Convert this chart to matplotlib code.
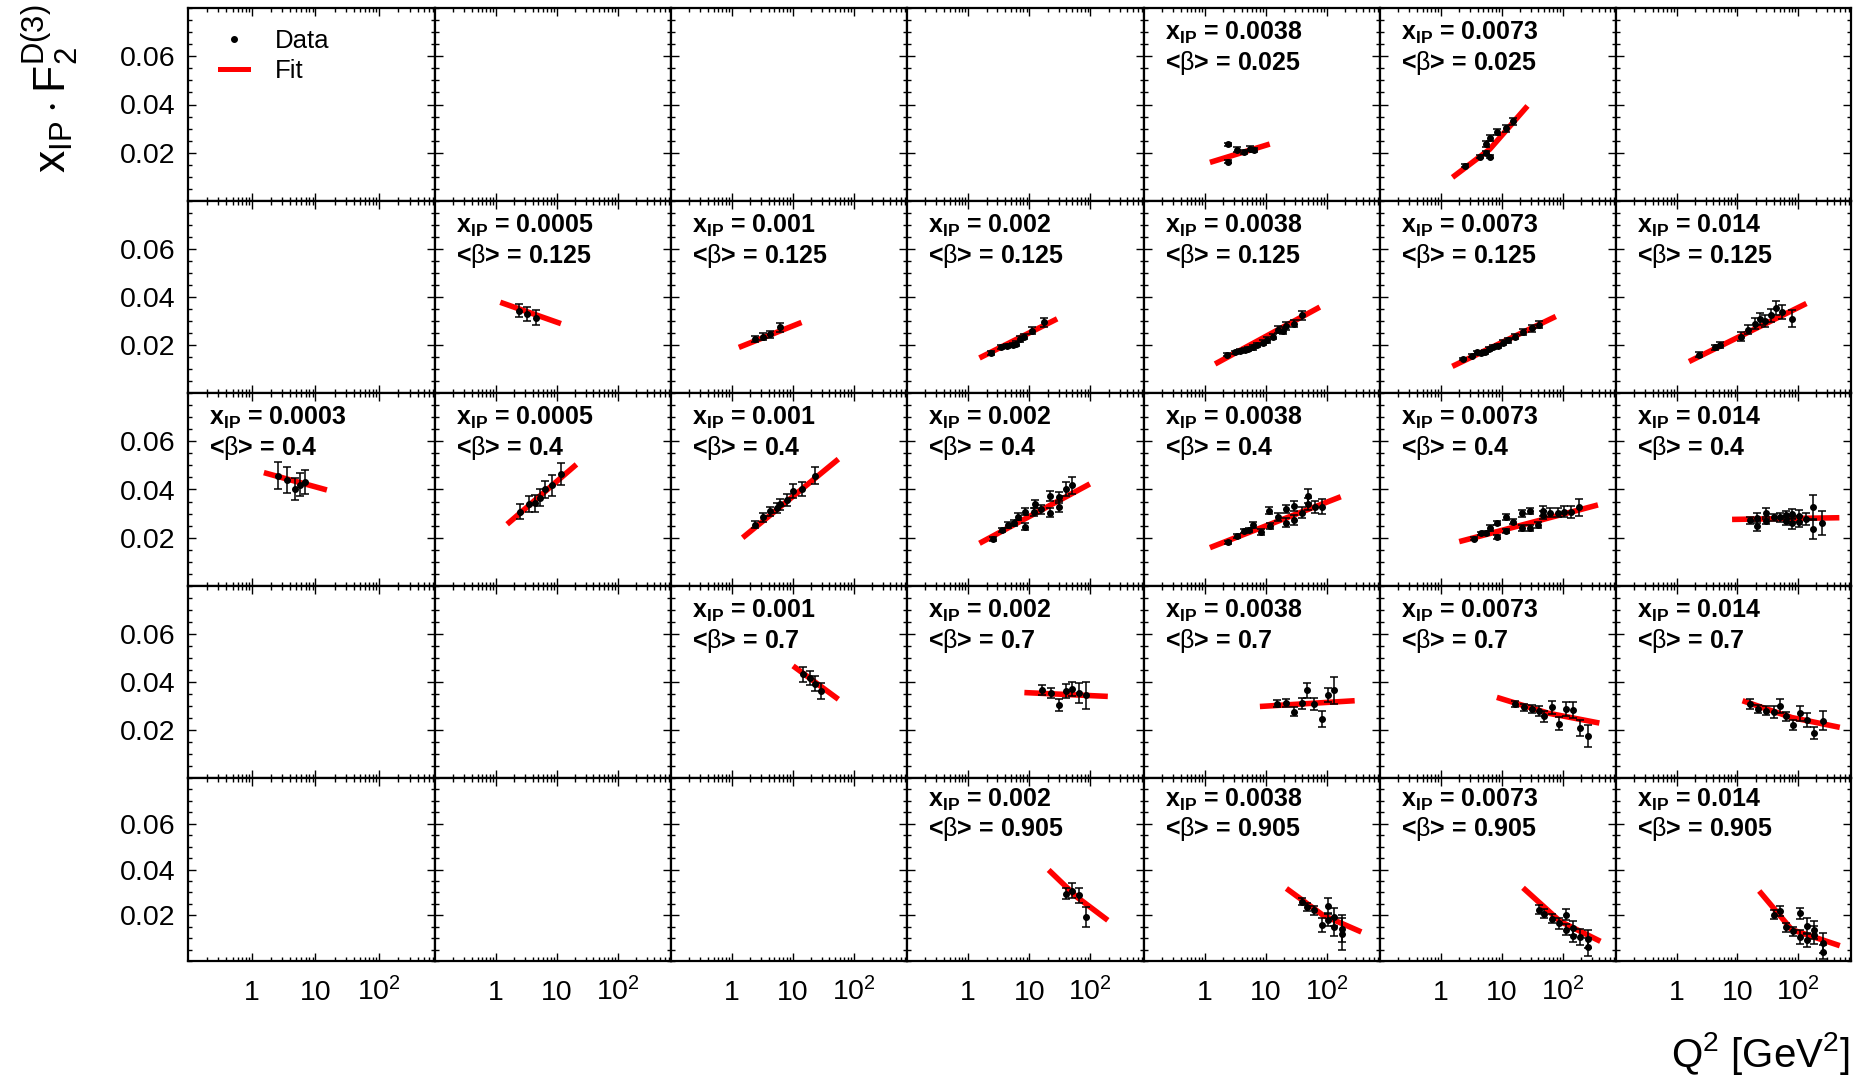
import matplotlib
matplotlib.use("Agg")
import matplotlib.pyplot as plt
from matplotlib.lines import Line2D
from matplotlib.ticker import FixedLocator, MultipleLocator, LogLocator, NullFormatter

plt.rcParams["font.family"] = ["Liberation Sans", "DejaVu Sans"]
plt.rcParams["mathtext.fontset"] = "custom"
plt.rcParams["mathtext.rm"] = "Liberation Sans"
plt.rcParams["mathtext.it"] = "Liberation Sans:italic"
plt.rcParams["mathtext.bf"] = "Liberation Sans:bold"

# columns = x_IP bins, rows = <beta> bins
xip_labels = ["0.0003", "0.0005", "0.001", "0.002", "0.0038", "0.0073", "0.014"]
beta_labels = ["0.025", "0.125", "0.4", "0.7", "0.905"]
q2_ticks = [1, 10, 100]
q2_ticklabels = ["1", "10", "10$^{2}$"]
y_ticks = [0.02, 0.04, 0.06]
y_ticklabels = ["0.02", "0.04", "0.06"]

# (Q2, xIP*F2D3, error) per panel, fit curve as (Q2, value)
b0025_x0038 = [(2.41, 0.0235, 0.0006), (2.41, 0.0163, 0.0006), (3.39, 0.0213, 0.0010),
               (4.36, 0.0203, 0.0007), (5.47, 0.0217, 0.0009), (6.36, 0.0211, 0.0009)]
fit_b0025_x0038 = [(1.21, 0.0160), (11.6, 0.0236)]
b0025_x0073 = [(2.47, 0.0146, 0.0006), (4.36, 0.0184, 0.0006), (5.47, 0.0236, 0.0014),
               (5.47, 0.0200, 0.0008), (6.36, 0.0260, 0.0012), (6.36, 0.0184, 0.0006),
               (8.49, 0.0287, 0.0012), (11.8, 0.0301, 0.0014), (15.5, 0.0331, 0.0015)]
fit_b0025_x0073 = [(1.55, 0.0098), (6.36, 0.0215), (26.4, 0.0394)]

b0125_x0005 = [(2.41, 0.0343, 0.0028), (3.2, 0.0330, 0.0030), (4.53, 0.0314, 0.0030)]
fit_b0125_x0005 = [(1.18, 0.0378), (11.7, 0.0289)]
b0125_x001 = [(2.4, 0.0225, 0.0012), (3.3, 0.0235, 0.0014), (4.3, 0.0244, 0.0015),
              (6.2, 0.0274, 0.0018)]
fit_b0125_x001 = [(1.3, 0.0190), (13.9, 0.0294)]
b0125_x002 = [(2.39, 0.0165, 0.0008), (3.43, 0.0190, 0.0008), (4.29, 0.0195, 0.0008),
              (5.37, 0.0200, 0.0010), (6.15, 0.0205, 0.0010), (7.04, 0.0225, 0.0012),
              (8.06, 0.0235, 0.0012), (11.0, 0.0259, 0.0015), (17.3, 0.0294, 0.0018)]
fit_b0125_x002 = [(1.53, 0.0146), (28.5, 0.0309)]
b0125_x0038 = [(2.3, 0.0160, 0.0006), (3.15, 0.0170, 0.0007), (3.77, 0.0175, 0.0008),
               (4.51, 0.0180, 0.0008), (5.16, 0.0182, 0.0008), (6.18, 0.0190, 0.0009),
               (7.07, 0.0200, 0.0010), (8.86, 0.0210, 0.0010), (10.6, 0.0220, 0.0012),
               (13.3, 0.0235, 0.0012), (15.9, 0.0264, 0.0014), (19.0, 0.0259, 0.0014),
               (21.8, 0.0279, 0.0015), (28.5, 0.0289, 0.0016), (39.0, 0.0323, 0.0018)]
fit_b0125_x0038 = [(1.47, 0.0121), (77, 0.0358)]
b0125_x0073 = [(2.29, 0.0141, 0.0005), (3.28, 0.0156, 0.0006), (3.92, 0.0170, 0.0007),
               (4.49, 0.0165, 0.0007), (5.37, 0.0170, 0.0008), (6.15, 0.0185, 0.0008),
               (7.04, 0.0190, 0.0008), (8.82, 0.0195, 0.0009), (10.6, 0.0210, 0.0010),
               (12.6, 0.0220, 0.0010), (16.5, 0.0235, 0.0012), (22.7, 0.0254, 0.0013),
               (31.0, 0.0269, 0.0014), (40.7, 0.0284, 0.0015)]
fit_b0125_x0073 = [(1.54, 0.0111), (77, 0.0319)]
b0125_x014 = [(2.38, 0.0160, 0.0012), (4.27, 0.0190, 0.0012), (5.12, 0.0200, 0.0014),
              (11.5, 0.0235, 0.0018), (15.1, 0.0264, 0.0020), (19.7, 0.0289, 0.0022),
              (23.6, 0.0309, 0.0025), (28.3, 0.0299, 0.0025), (35.4, 0.0323, 0.0028),
              (44.3, 0.0353, 0.0030), (55.5, 0.0338, 0.0030), (79.5, 0.0309, 0.0035)]
fit_b0125_x014 = [(1.6, 0.0131), (138, 0.0373)]

b04_x0003 = [(2.57, 0.0457, 0.0055), (3.61, 0.0439, 0.0055), (4.72, 0.0402, 0.0047),
             (5.73, 0.0420, 0.0047), (6.79, 0.0432, 0.0050)]
fit_b04_x0003 = [(1.55, 0.0470), (15.1, 0.0398)]
b04_x0005 = [(2.47, 0.0308, 0.0030), (3.47, 0.0338, 0.0033), (4.41, 0.0343, 0.0035),
             (5.33, 0.0366, 0.0035), (6.52, 0.0401, 0.0035), (8.49, 0.0417, 0.0045),
             (11.6, 0.0464, 0.0045)]
fit_b04_x0005 = [(1.53, 0.0256), (21.0, 0.0504)]
b04_x001 = [(2.4, 0.0254, 0.0015), (3.3, 0.0284, 0.0018), (4.3, 0.0309, 0.0020),
            (5.4, 0.0323, 0.0022), (6.2, 0.0338, 0.0022), (8.1, 0.0358, 0.0025),
            (10.1, 0.0393, 0.0028), (13.9, 0.0402, 0.0030), (22.8, 0.0457, 0.0035)]
fit_b04_x001 = [(1.5, 0.0200), (56, 0.0526)]
b04_x002 = [(2.54, 0.0195, 0.0008), (3.56, 0.0232, 0.0010), (4.53, 0.0253, 0.0012),
            (5.53, 0.0262, 0.0012), (6.44, 0.0287, 0.0014), (8.49, 0.0308, 0.0015),
            (8.49, 0.0246, 0.0015), (11.9, 0.0308, 0.0016), (12.2, 0.0340, 0.0018),
            (15.7, 0.0318, 0.0018), (22.1, 0.0373, 0.0022), (22.1, 0.0304, 0.0020),
            (30.3, 0.0367, 0.0024), (30.3, 0.0329, 0.0022), (39.9, 0.0402, 0.0030),
            (49.4, 0.0417, 0.0035)]
fit_b04_x002 = [(1.53, 0.0177), (97.5, 0.0423)]
b04_x0038 = [(2.41, 0.0181, 0.0007), (3.39, 0.0207, 0.0008), (4.36, 0.0228, 0.0010),
             (5.27, 0.0232, 0.0010), (6.20, 0.0253, 0.0012), (8.49, 0.0225, 0.0012),
             (11.3, 0.0312, 0.0015), (11.6, 0.0249, 0.0014), (15.9, 0.0285, 0.0016),
             (21.5, 0.0319, 0.0018), (21.5, 0.0262, 0.0018), (29.1, 0.0331, 0.0020),
             (29.1, 0.0273, 0.0020), (39.4, 0.0304, 0.0022), (49.4, 0.0373, 0.0028),
             (49.4, 0.0340, 0.0025), (63.6, 0.0329, 0.0025), (82.8, 0.0329, 0.0030)]
fit_b04_x0038 = [(1.21, 0.0159), (170, 0.0370)]
b04_x0073 = [(3.47, 0.0196, 0.0006), (4.47, 0.0218, 0.0007), (5.47, 0.0221, 0.0008),
             (6.36, 0.0239, 0.0012), (8.38, 0.0262, 0.0009), (8.38, 0.0204, 0.0008),
             (11.6, 0.0287, 0.0012), (11.6, 0.0228, 0.0010), (15.5, 0.0267, 0.0012),
             (21.8, 0.0301, 0.0013), (21.8, 0.0239, 0.0012), (29.5, 0.0311, 0.0013),
             (29.5, 0.0239, 0.0012), (39.4, 0.0253, 0.0013), (47.6, 0.0312, 0.0020),
             (47.6, 0.0294, 0.0018), (62.8, 0.0304, 0.0020), (83.8, 0.0304, 0.0020),
             (106, 0.0308, 0.0022), (139, 0.0308, 0.0025), (183, 0.0326, 0.0035)]
fit_b04_x0073 = [(2.0, 0.0184), (379, 0.0336)]
b04_x014 = [(16.1, 0.0273, 0.0015), (21.5, 0.0283, 0.0020), (21.5, 0.0249, 0.0020),
            (29.5, 0.0301, 0.0022), (29.5, 0.0271, 0.0015), (40.4, 0.0285, 0.0015),
            (50, 0.0285, 0.0018), (62.8, 0.0294, 0.0018), (62.8, 0.0271, 0.0018),
            (80.7, 0.0298, 0.0022), (80.7, 0.0260, 0.0022), (106, 0.0290, 0.0025),
            (106, 0.0267, 0.0022), (137, 0.0276, 0.0025), (176, 0.0329, 0.0050),
            (176, 0.0235, 0.0040), (250, 0.0260, 0.0050)]
fit_b04_x014 = [(8.2, 0.0276), (482, 0.0283)]

b07_x001 = [(14.5, 0.0432, 0.0030), (19.0, 0.0417, 0.0030), (22.8, 0.0393, 0.0032),
            (28.5, 0.0363, 0.0032)]
fit_b07_x001 = [(10.1, 0.0467), (56, 0.0328)]
b07_x002 = [(15.9, 0.0368, 0.0021), (22.3, 0.0354, 0.0022), (30.3, 0.0305, 0.0024),
            (39.9, 0.0362, 0.0030), (49.4, 0.0370, 0.0028), (65, 0.0354, 0.0040),
            (86, 0.0345, 0.0057)]
fit_b07_x002 = [(8.3, 0.0356), (192, 0.0340)]
b07_x0038 = [(15.5, 0.0309, 0.0015), (21.3, 0.0312, 0.0018), (29.1, 0.0277, 0.0020),
             (39.4, 0.0312, 0.0023), (48, 0.0365, 0.0030), (62, 0.0309, 0.0025),
             (83, 0.0247, 0.0033), (106, 0.0345, 0.0030), (134, 0.0365, 0.0055)]
fit_b07_x0038 = [(8.0, 0.0298), (288, 0.0322)]
b07_x0073 = [(16.2, 0.0308, 0.0014), (22.9, 0.0294, 0.0016), (31, 0.0287, 0.0018),
             (41, 0.0280, 0.0020), (50, 0.0257, 0.0022), (66, 0.0294, 0.0028),
             (88, 0.0227, 0.0028), (113, 0.0287, 0.0030), (147, 0.0283, 0.0032),
             (194, 0.0209, 0.0032), (263, 0.0176, 0.0045)]
fit_b07_x0073 = [(8.3, 0.0336), (58, 0.0270), (400, 0.0229)]
b07_x014 = [(16.3, 0.0308, 0.0020), (21.8, 0.0287, 0.0018), (29.5, 0.0280, 0.0018),
            (40.4, 0.0273, 0.0025), (50, 0.0301, 0.0030), (64, 0.0257, 0.0020),
            (84, 0.0222, 0.0020), (108, 0.0269, 0.0030), (139, 0.0241, 0.0030),
            (183, 0.0186, 0.0025), (257, 0.0239, 0.0040)]
fit_b07_x014 = [(12.2, 0.0322), (79, 0.0252), (490, 0.0211)]

b0905_x002 = [(39.9, 0.0295, 0.0023), (49.4, 0.0307, 0.0033), (65, 0.0287, 0.0034),
              (86, 0.0193, 0.0044)]
fit_b0905_x002 = [(20.7, 0.0398), (59, 0.0281), (192, 0.0178)]
b0905_x0038 = [(39.4, 0.0259, 0.0015), (48, 0.0237, 0.0018), (62, 0.0222, 0.0020),
               (83, 0.0156, 0.0030), (106, 0.0240, 0.0035), (106, 0.0181, 0.0030),
               (134, 0.0193, 0.0040), (134, 0.0149, 0.0040), (176, 0.0142, 0.0060),
               (176, 0.0117, 0.0070)]
fit_b0905_x0038 = [(21.8, 0.0317), (87, 0.0200), (370, 0.0127)]
b0905_x0073 = [(41, 0.0225, 0.0018), (50, 0.0206, 0.0020), (67, 0.0184, 0.0020),
               (88, 0.0164, 0.0025), (114, 0.0203, 0.0025), (114, 0.0137, 0.0025),
               (147, 0.0145, 0.0030), (147, 0.0111, 0.0030), (194, 0.0104, 0.0035),
               (263, 0.0096, 0.0040), (263, 0.0060, 0.0040)]
fit_b0905_x0073 = [(22.3, 0.0320), (90, 0.0174), (416, 0.0086)]
b0905_x014 = [(40.4, 0.0203, 0.0020), (50, 0.0218, 0.0022), (64, 0.0148, 0.0020),
              (84, 0.0130, 0.0020), (108, 0.0208, 0.0025), (108, 0.0105, 0.0030),
              (139, 0.0152, 0.0035), (139, 0.0091, 0.0030), (183, 0.0135, 0.0040),
              (183, 0.0113, 0.0040), (257, 0.0079, 0.0045), (257, 0.0038, 0.0030)]
fit_b0905_x014 = [(23, 0.0306), (79, 0.0137), (490, 0.0067)]

# (row, col, data, fit)
panels = [
    (0, 4, b0025_x0038, fit_b0025_x0038), (0, 5, b0025_x0073, fit_b0025_x0073),
    (1, 1, b0125_x0005, fit_b0125_x0005), (1, 2, b0125_x001, fit_b0125_x001),
    (1, 3, b0125_x002, fit_b0125_x002), (1, 4, b0125_x0038, fit_b0125_x0038),
    (1, 5, b0125_x0073, fit_b0125_x0073), (1, 6, b0125_x014, fit_b0125_x014),
    (2, 0, b04_x0003, fit_b04_x0003), (2, 1, b04_x0005, fit_b04_x0005),
    (2, 2, b04_x001, fit_b04_x001), (2, 3, b04_x002, fit_b04_x002),
    (2, 4, b04_x0038, fit_b04_x0038), (2, 5, b04_x0073, fit_b04_x0073),
    (2, 6, b04_x014, fit_b04_x014),
    (3, 2, b07_x001, fit_b07_x001), (3, 3, b07_x002, fit_b07_x002),
    (3, 4, b07_x0038, fit_b07_x0038), (3, 5, b07_x0073, fit_b07_x0073),
    (3, 6, b07_x014, fit_b07_x014),
    (4, 3, b0905_x002, fit_b0905_x002), (4, 4, b0905_x0038, fit_b0905_x0038),
    (4, 5, b0905_x0073, fit_b0905_x0073), (4, 6, b0905_x014, fit_b0905_x014),
]

W, H = 1868, 1078
fig = plt.figure(figsize=(W / 100, H / 100), dpi=100)

# pad edges in pixels
col_edges = [188, 435, 671, 907, 1144, 1380, 1616, 1851]
row_edges = [8, 201, 393, 586, 778, 961]

axes = {}
for r in range(5):
    for c in range(7):
        x0, x1 = col_edges[c], col_edges[c + 1]
        y0, y1 = row_edges[r], row_edges[r + 1]
        ax = fig.add_axes([x0 / W, 1 - y1 / H, (x1 - x0) / W, (y1 - y0) / H])
        ax.set_xscale("log")
        ax.set_xlim(0.1, 750)
        ax.set_ylim(0, 0.08)
        for s in ax.spines.values():
            s.set_linewidth(1.6)
        ax.xaxis.set_major_locator(FixedLocator(q2_ticks))
        ax.xaxis.set_minor_locator(LogLocator(base=10, subs=range(2, 10)))
        ax.xaxis.set_minor_formatter(NullFormatter())
        ax.yaxis.set_major_locator(FixedLocator(y_ticks))
        ax.yaxis.set_minor_locator(MultipleLocator(0.005))
        ax.tick_params(which="both", direction="in", top=True, right=True, width=1)
        ax.tick_params(which="major", length=6)
        ax.tick_params(which="minor", length=3)
        ax.set_xticklabels([])
        if c == 0:
            ax.set_yticklabels(y_ticklabels)
            ax.tick_params(axis="y", labelsize=20.5, pad=9)
        else:
            ax.set_yticklabels([])
        if r == 4:
            for q, lab in zip(q2_ticks, q2_ticklabels):
                ax.text(q, -0.215, lab, transform=ax.get_xaxis_transform(),
                        ha="center", va="baseline", fontsize=20.5)
        axes[(r, c)] = ax

for r, c, data, fit in panels:
    ax = axes[(r, c)]
    fq = [p[0] for p in fit]
    ff = [p[1] for p in fit]
    ax.plot(fq, ff, color="red", lw=4, solid_capstyle="butt", zorder=2)
    q = [p[0] for p in data]
    f = [p[1] for p in data]
    e = [p[2] for p in data]
    ax.errorbar(q, f, yerr=e, fmt="o", color="black", ms=4, elinewidth=1.1,
                capsize=3, capthick=1.1, zorder=3)
    dy = -23 if r < 4 else -20.5
    ax.annotate(r"x$_{\mathbf{IP}}$ = " + xip_labels[c], xy=(0, 1), xycoords="axes fraction",
                xytext=(15, dy), textcoords="offset points", fontsize=18,
                fontweight="bold", ha="left", va="baseline")
    ax.annotate(r"<$\mathrm{\beta}$> = " + beta_labels[r], xy=(0, 1), xycoords="axes fraction",
                xytext=(15, dy - 21.5), textcoords="offset points", fontsize=18,
                fontweight="bold", ha="left", va="baseline")

# legend in the first pad
handles = [Line2D([], [], marker="o", ms=4, color="black", ls="none"),
           Line2D([], [], color="red", lw=3.6)]
axes[(0, 0)].legend(handles, ["Data", "Fit"], loc="upper left", bbox_to_anchor=(0.13, 0.89),
                    frameon=False, fontsize=18.5, handlelength=1.1, handletextpad=1.05,
                    labelspacing=0.22, borderpad=0, borderaxespad=0)

fig.text(50 / W, 1 - 4 / H, r"$\mathrm{x}_{\mathrm{IP}}\cdot\mathrm{F}_{2}^{\mathrm{D(3)}}$",
         rotation=90, ha="center", va="top", fontsize=32)
fig.text(1850 / W, 11 / H, r"Q$^{2}$ [GeV$^{2}$]", ha="right", va="baseline", fontsize=29)

fig.savefig("out.png", dpi=100)
